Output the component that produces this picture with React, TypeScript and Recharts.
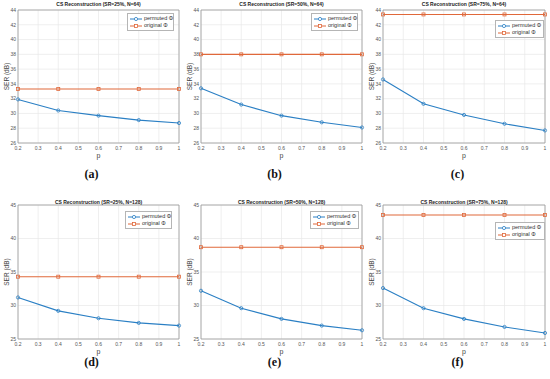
import { LineChart, Line, XAxis, YAxis, CartesianGrid, Legend, ReferenceLine } from "recharts";

const pValues = [0.2, 0.4, 0.6, 0.8, 1];
const xTicks = [0.2, 0.3, 0.4, 0.5, 0.6, 0.7, 0.8, 0.9, 1];
const yTicksN64 = [26, 28, 30, 32, 34, 36, 38, 40, 42, 44];
const yTicksN128 = [25, 30, 35, 40, 45];

// SER (dB), one array per panel
const permutedA = [31.9, 30.4, 29.7, 29.1, 28.7];
const originalA = [33.3, 33.3, 33.3, 33.3, 33.3];
const permutedB = [33.4, 31.2, 29.7, 28.8, 28.1];
const originalB = [38.0, 38.0, 38.0, 38.0, 38.0];
const permutedC = [34.6, 31.3, 29.8, 28.6, 27.7];
const originalC = [43.4, 43.4, 43.4, 43.4, 43.4];
const permutedD = [31.2, 29.2, 28.1, 27.4, 27.0];
const originalD = [34.3, 34.3, 34.3, 34.3, 34.3];
const permutedE = [32.2, 29.6, 28.0, 27.0, 26.3];
const originalE = [38.7, 38.7, 38.7, 38.7, 38.7];
const permutedF = [32.6, 29.6, 28.0, 26.8, 25.9];
const originalF = [43.5, 43.5, 43.5, 43.5, 43.5];

const BLUE = "#2a7fc4";
const ORANGE = "#e0683a";
const AXIS = "#9a9a9a";
const SANS = "'Liberation Sans', Arial, sans-serif";
const Y_AXIS_W = 14;

function Square(props: any) {
  const { cx, cy, key } = props;
  if (cx == null || cy == null) return <g key={key} />;
  return <rect key={key} x={cx - 1.5} y={cy - 1.5} width={3} height={3} fill="none" stroke={ORANGE} strokeWidth={0.8} />;
}

function LegendBox() {
  const rows = [
    { name: "permuted Φ", color: BLUE, square: false },
    { name: "original Φ", color: ORANGE, square: true },
  ];
  return (
    <div style={{ border: "0.8px solid #b5b5b5", background: "#fff", padding: "1px 2px", fontFamily: SANS, fontSize: 5.5, color: "#333", lineHeight: "7px", whiteSpace: "nowrap" }}>
      {rows.map((r) => (
        <div key={r.name} style={{ display: "flex", alignItems: "center" }}>
          <svg width={12} height={6} style={{ marginRight: 2, flexShrink: 0 }}>
            <line x1={0} y1={3} x2={12} y2={3} stroke={r.color} strokeWidth={1} />
            {r.square ? (
              <rect x={4.5} y={1.5} width={3} height={3} fill="#fff" stroke={r.color} strokeWidth={0.8} />
            ) : (
              <circle cx={6} cy={3} r={1.6} fill="#fff" stroke={r.color} strokeWidth={0.8} />
            )}
          </svg>
          <span>{r.name}</span>
        </div>
      ))}
    </div>
  );
}

type PanelProps = {
  left: number; top: number; width: number; height: number;
  margin: { top: number; right: number; bottom: number; left: number };
  title: string; titleY: number; caption: string; captionY: number;
  permuted: number[]; original: number[]; yTicks: number[];
  legendX: number; legendY: number; legendW: number;
};

function Panel(p: PanelProps) {
  const data = pValues.map((x, i) => ({ p: x, permuted: p.permuted[i], original: p.original[i] }));
  const yMin = p.yTicks[0];
  const yMax = p.yTicks[p.yTicks.length - 1];
  const plotLeft = p.margin.left + Y_AXIS_W;
  const plotRight = p.width - p.margin.right;
  return (
    <div style={{ position: "absolute", left: p.left, top: p.top, width: p.width, height: p.height }}>
      <LineChart width={p.width} height={p.height} data={data} margin={p.margin}>
        <CartesianGrid stroke="#e8e8e8" strokeWidth={0.7} />
        <XAxis
          dataKey="p" type="number" domain={[0.2, 1]} ticks={xTicks} interval={0}
          height={20} tickSize={2} tickMargin={1} tickLine={false}
          axisLine={{ stroke: AXIS, strokeWidth: 0.8 }}
          tick={{ fontSize: 5, fill: "#555", fontFamily: SANS }}
          label={{ value: "p", position: "insideBottom", offset: 5, fontSize: 7, fill: "#444", fontFamily: SANS }}
        />
        <YAxis
          type="number" domain={[yMin, yMax]} ticks={p.yTicks} interval={0}
          width={Y_AXIS_W} tickSize={2} tickMargin={0} tickLine={false}
          axisLine={{ stroke: AXIS, strokeWidth: 0.8 }}
          tick={{ fontSize: 5, fill: "#555", fontFamily: SANS }}
          label={{ value: "SER (dB)", angle: -90, position: "insideLeft", offset: 3, textAnchor: "middle", fontSize: 6.5, fill: "#444", fontFamily: SANS }}
        />
        <ReferenceLine y={yMax} stroke={AXIS} strokeWidth={0.8} />
        <ReferenceLine x={1} stroke={AXIS} strokeWidth={0.8} />
        <Legend
          layout="vertical" align="center" verticalAlign="middle"
          content={() => <LegendBox />}
          wrapperStyle={{ left: p.legendX, top: p.legendY, width: p.legendW }}
        />
        <Line
          dataKey="original" name="original Φ" stroke={ORANGE} strokeWidth={1.1}
          dot={Square} activeDot={false} isAnimationActive={false}
        />
        <Line
          dataKey="permuted" name="permuted Φ" type="linear" stroke={BLUE} strokeWidth={1.1}
          dot={{ r: 1.6, fill: "none", stroke: BLUE, strokeWidth: 0.8 }} activeDot={false} isAnimationActive={false}
        />
      </LineChart>
      <div style={{ position: "absolute", left: plotLeft, width: plotRight - plotLeft, top: p.titleY - 4, textAlign: "center", fontFamily: SANS, fontWeight: "bold", fontSize: 5, color: "#222", whiteSpace: "nowrap" }}>
        {p.title}
      </div>
      <div style={{ position: "absolute", left: 0, width: p.width, top: p.captionY - 8, textAlign: "center", fontFamily: "'Liberation Serif', 'Times New Roman', serif", fontWeight: "bold", fontSize: 12, color: "#111" }}>
        {p.caption}
      </div>
    </div>
  );
}

const cols = [
  { left: 0, width: 183, right: 4 },
  { left: 183, width: 183, right: 4 },
  { left: 365, width: 185, right: 5 },
];

export default function App() {
  const topMargin = (c: typeof cols[0]) => ({ top: 10, right: c.right, bottom: 27, left: 4 });
  const botMargin = (c: typeof cols[0]) => ({ top: 15, right: c.right, bottom: 20, left: 4 });
  return (
    <div style={{ position: "fixed", left: 0, top: 0, width: 550, height: 379, background: "#fff", overflow: "hidden" }}>
      <Panel left={cols[0].left} top={0} width={cols[0].width} height={190} margin={topMargin(cols[0])}
        title="CS Reconstruction (SR=25%, N=64)" titleY={5} caption="(a)" captionY={175}
        permuted={permutedA} original={originalA} yTicks={yTicksN64} legendX={127} legendY={13} legendW={47} />
      <Panel left={cols[1].left} top={0} width={cols[1].width} height={190} margin={topMargin(cols[1])}
        title="CS Reconstruction (SR=50%, N=64)" titleY={5} caption="(b)" captionY={175}
        permuted={permutedB} original={originalB} yTicks={yTicksN64} legendX={128} legendY={13} legendW={47} />
      <Panel left={cols[2].left} top={0} width={cols[2].width} height={190} margin={topMargin(cols[2])}
        title="CS Reconstruction (SR=75%, N=64)" titleY={5} caption="(c)" captionY={175}
        permuted={permutedC} original={originalC} yTicks={yTicksN64} legendX={130} legendY={20} legendW={49} />
      <Panel left={cols[0].left} top={190} width={cols[0].width} height={189} margin={botMargin(cols[0])}
        title="CS Reconstruction (SR=25%, N=128)" titleY={13} caption="(d)" captionY={173}
        permuted={permutedD} original={originalD} yTicks={yTicksN128} legendX={125} legendY={21} legendW={47} />
      <Panel left={cols[1].left} top={190} width={cols[1].width} height={189} margin={botMargin(cols[1])}
        title="CS Reconstruction (SR=50%, N=128)" titleY={13} caption="(e)" captionY={173}
        permuted={permutedE} original={originalE} yTicks={yTicksN128} legendX={127} legendY={21} legendW={49} />
      <Panel left={cols[2].left} top={190} width={cols[2].width} height={189} margin={botMargin(cols[2])}
        title="CS Reconstruction (SR=75%, N=128)" titleY={13} caption="(f)" captionY={173}
        permuted={permutedF} original={originalF} yTicks={yTicksN128} legendX={130} legendY={32} legendW={50} />
    </div>
  );
}
